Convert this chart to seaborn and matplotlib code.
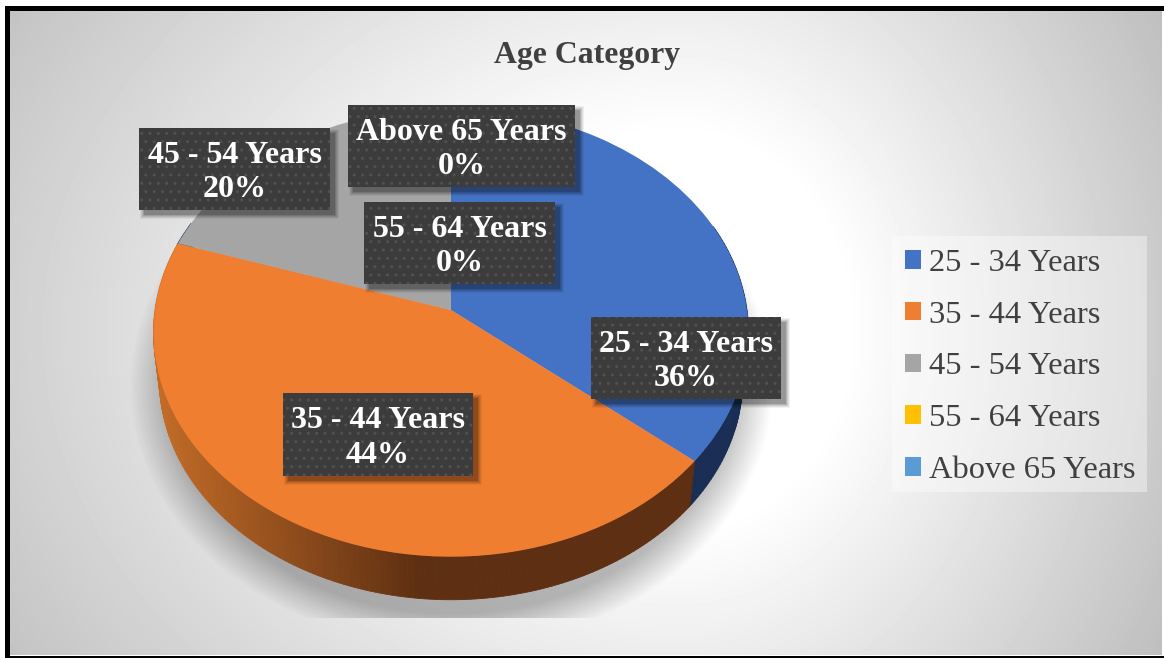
import matplotlib
matplotlib.use("Agg")
import matplotlib.pyplot as plt
from matplotlib.patches import Rectangle
from matplotlib.transforms import Transform
import numpy as np
import seaborn as sns

###############################################################
# DATA
###############################################################
categories = ["25 - 34 Years", "35 - 44 Years", "45 - 54 Years", "55 - 64 Years", "Above 65 Years"]
shares = [36, 44, 20, 0, 0]
colors = ["#4472C4", "#F07E30", "#A5A5A5", "#FFC000", "#5B9BD5"]
title = "Age Category"

# label boxes in picture pixels: left, top, right, bottom
label_boxes = {
    "25 - 34 Years": (591, 317, 781, 399),
    "35 - 44 Years": (283, 393, 473, 476),
    "45 - 54 Years": (139, 128, 330, 210),
    "55 - 64 Years": (364, 202, 555, 284),
    "Above 65 Years": (348, 105, 575, 187),
}

W, H = 1164, 658
CX, CY = 451, 310      # pie apex
RX, RY, TILT = 296, 222, 0.1
DEPTH, SHRINK = 48, 0.98


###############################################################
# PERSPECTIVE FOR THE FLAT PIE
###############################################################
def project(xy, scale=1.0, drop=0.0):
    xy = np.asarray(xy, dtype=float)
    d = 1 + TILT * xy[:, 1]
    return np.column_stack([CX + scale * RX * xy[:, 0] / d,
                            CY + drop - scale * RY * xy[:, 1] / d])


class Tilted(Transform):
    input_dims = 2
    output_dims = 2

    def transform_non_affine(self, values):
        return project(values)


def background():
    yy, xx = np.mgrid[0:H, 0:W]
    dx = (xx - 680.0) / np.where(xx < 680, 720.0, 480.0)
    dy = (yy - 330.0) / 560.0
    r = np.sqrt(dx ** 2 + dy ** 2)
    gray = 255 - 60 * np.clip((r - 0.35) / 0.75, 0, 1.3)
    return gray


def shadow():
    yy, xx = np.mgrid[0:H, 0:W]
    r = np.sqrt(((xx - 451.0) / 322.0) ** 2 + ((yy - 385.0) / 262.0) ** 2)
    alpha = np.clip((1 - r) / 0.13, 0, 1) * 0.27
    alpha[yy > 617] = 0
    img = np.zeros((H, W, 4))
    img[..., 3] = alpha
    return img


def wall_color(x, base):
    # orange side fades from lit left edge to dark brown
    if base == 1:
        t = np.clip((x - 160) / 260.0, 0, 1)
        a, b = np.array([0.76, 0.42, 0.15]), np.array([0.37, 0.185, 0.07])
        return tuple(a + (b - a) * t)
    return (0.10, 0.175, 0.33)


def draw_wall(ax):
    edges = np.cumsum([0] + shares) / sum(shares) * 360
    for i in range(len(shares)):
        if shares[i] == 0:
            continue
        ang = np.radians(np.arange(edges[i], edges[i + 1] + 1, 1.0))
        unit = np.column_stack([np.sin(ang), np.cos(ang)])
        top = project(unit)
        low = project(unit, SHRINK, DEPTH)
        for j in range(len(ang) - 1):
            if unit[j, 1] > 0.4:
                continue
            quad = np.vstack([top[j], top[j + 1], low[j + 1], low[j]])
            c = wall_color(top[j, 0], i)
            ax.fill(quad[:, 0], quad[:, 1], color=c, lw=0.6, zorder=3)


def draw_label(ax, name, pct):
    x0, y0, x1, y1 = label_boxes[name]
    for grow, a in [(4, 0.05), (3, 0.07), (2, 0.09), (1, 0.11), (0, 0.16)]:
        ax.add_patch(Rectangle((x0 + 5 - grow, y0 + 5 - grow), x1 - x0 + 2 * grow, y1 - y0 + 2 * grow,
                               fc="black", ec="none", alpha=a, zorder=6))
    ax.add_patch(Rectangle((x0, y0), x1 - x0, y1 - y0, fc="#3C3C3C", ec="#515151",
                           lw=0, hatch="..", zorder=7))
    ax.text((x0 + x1) / 2, (y0 + y1) / 2 + 3.5, f"{name}\n{pct}%", color="white", fontsize=23,
            fontweight="bold", ha="center", va="center", linespacing=1.27, zorder=8)


###############################################################
# MAIN
###############################################################
sns.set_theme(style="white")
plt.rcParams["font.family"] = ["Liberation Serif", "DejaVu Serif"]
plt.rcParams["hatch.linewidth"] = 1.0
palette = sns.color_palette(colors)

fig = plt.figure(figsize=(W / 100, H / 100), dpi=100, facecolor="white")
ax = fig.add_axes([0, 0, 1, 1])

wedges, _ = ax.pie(shares, colors=palette, startangle=90, counterclock=False,
                   wedgeprops={"linewidth": 0})
for w in wedges:
    w.set_transform(Tilted() + ax.transData)
    w.set_zorder(4)

ax.set_aspect("auto")
ax.axis("off")

# chart area, black only on left, top and bottom
bg = ax.imshow(background(), cmap="gray", vmin=0, vmax=255, extent=(0, W, H, 0), aspect="auto", zorder=0)
bg.set_clip_path(Rectangle((10, 11), 1152, 644, transform=ax.transData))
ax.imshow(shadow(), extent=(0, W, H, 0), aspect="auto", zorder=1)
ax.add_patch(Rectangle((5, 6), 5, 652, fc="black", ec="none", zorder=2))
ax.add_patch(Rectangle((5, 6), W - 5, 5, fc="black", ec="none", zorder=2))
ax.add_patch(Rectangle((5, 656), W - 5, 2, fc="black", ec="none", zorder=2))
ax.set_xlim(0, W)
ax.set_ylim(H, 0)

draw_wall(ax)

ax.text(587, 55, title, color="#404040", fontsize=22.9, fontweight="bold", ha="center", va="center", zorder=8)

for name, pct in zip(categories, shares):
    draw_label(ax, name, pct)

# legend panel
ax.add_patch(Rectangle((892, 236), 255, 256, fc="white", ec="none", alpha=0.4, zorder=5))
leg = ax.legend(wedges, categories, loc="upper left", bbox_to_anchor=(892 / W, 1 - 236 / H),
                bbox_transform=fig.transFigure, fontsize=23.4, frameon=False,
                labelcolor="#404040",
                handlelength=0.5, handleheight=0.5, handletextpad=0.25, labelspacing=0.7,
                borderaxespad=0, borderpad=0.4)
leg.set_zorder(6)

fig.savefig("out.png", dpi=100)
